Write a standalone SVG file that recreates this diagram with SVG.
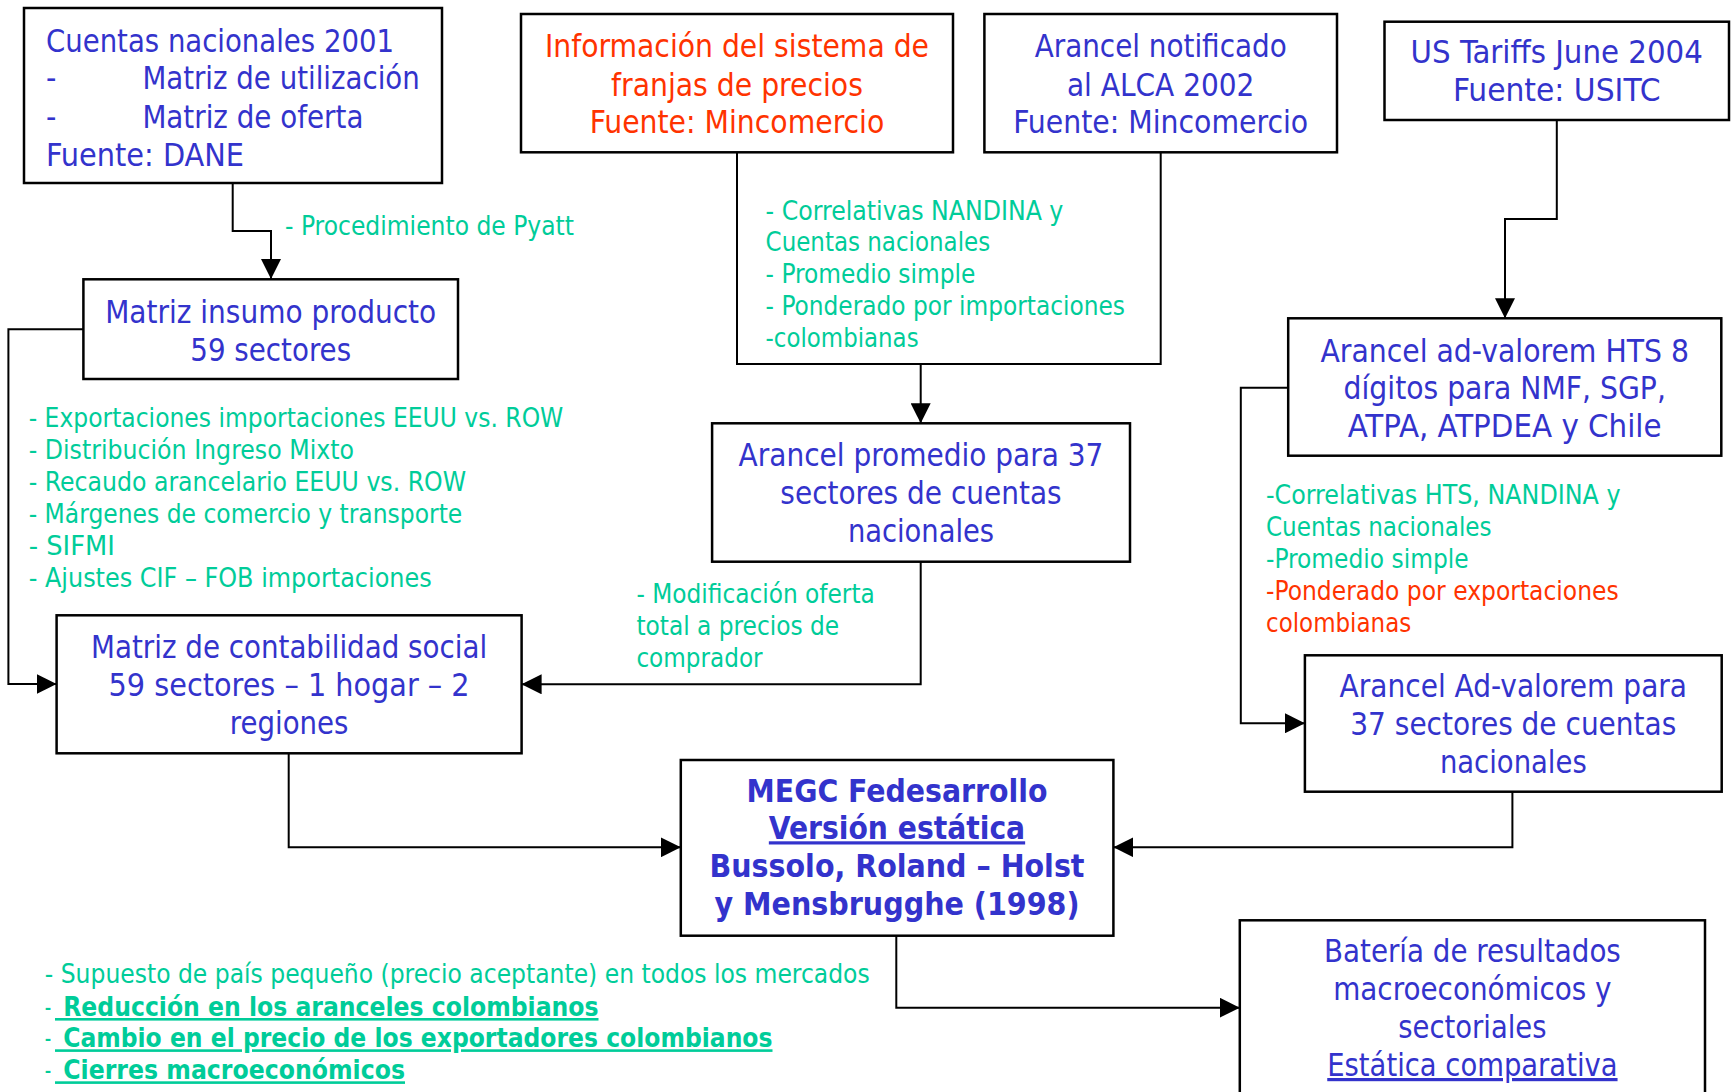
<svg xmlns="http://www.w3.org/2000/svg" width="1731" height="1092" viewBox="0 0 1731 1092">
<defs>
<style>
text{font-family:"DejaVu Sans Condensed","DejaVu Sans",sans-serif;}
.box{fill:#fff;stroke:#000;stroke-width:2.5}
.conn{fill:none;stroke:#000;stroke-width:2}
.b{fill:#3333CC;font-size:32px}
.r{fill:#FF3300}
.g{fill:#00CC99;font-size:26px}
.gr{fill:#FF3300;font-size:26px}
.c{text-anchor:middle}
.bold{font-weight:bold}
.u{text-decoration:underline}
</style>
<marker id="arr" viewBox="0 0 20 20" markerWidth="20" markerHeight="20" refX="20" refY="10" markerUnits="userSpaceOnUse" orient="auto">
<path d="M0,0 L20,10 L0,20 z" fill="#000"/>
</marker>
</defs>
<rect width="1731" height="1092" fill="#fff"/>

<g id="connectors">
<path class="conn" d="M232.7,183 V231 H271 V279" marker-end="url(#arr)"/>
<path class="conn" d="M83.4,329.3 H8.4 V684 H56.6" marker-end="url(#arr)"/>
<path class="conn" d="M737,152.3 V364 H1160.7 V152.3"/>
<path class="conn" d="M920.7,364 V423.3" marker-end="url(#arr)"/>
<path class="conn" d="M1556.8,120 V219 H1505 V318.3" marker-end="url(#arr)"/>
<path class="conn" d="M1288.2,387.7 H1240.8 V723.3 H1304.9" marker-end="url(#arr)"/>
<path class="conn" d="M920.7,561.7 V684.3 H521.6" marker-end="url(#arr)"/>
<path class="conn" d="M288.7,753.3 V847.3 H680.8" marker-end="url(#arr)"/>
<path class="conn" d="M1512.4,791.7 V847.3 H1113.4" marker-end="url(#arr)"/>
<path class="conn" d="M896.3,935.7 V1007.7 H1239.8" marker-end="url(#arr)"/>
</g>

<g id="labels">
<text class="g" x="285" y="235" textLength="289" lengthAdjust="spacingAndGlyphs">- Procedimiento de Pyatt</text>
<text class="g" x="28.7" y="426.7" textLength="534.6" lengthAdjust="spacingAndGlyphs">- Exportaciones importaciones EEUU vs. ROW</text>
<text class="g" x="28.7" y="458.7" textLength="325.3" lengthAdjust="spacingAndGlyphs">- Distribución Ingreso Mixto</text>
<text class="g" x="28.7" y="490.7" textLength="437.4" lengthAdjust="spacingAndGlyphs">- Recaudo arancelario EEUU vs. ROW</text>
<text class="g" x="28.7" y="522.7" textLength="433.6" lengthAdjust="spacingAndGlyphs">- Márgenes de comercio y transporte</text>
<text class="g" x="28.7" y="554.7" textLength="86.1" lengthAdjust="spacingAndGlyphs">- SIFMI</text>
<text class="g" x="28.7" y="586.7" textLength="403" lengthAdjust="spacingAndGlyphs">- Ajustes CIF – FOB importaciones</text>

<text class="g" x="765.6" y="220" textLength="297.8" lengthAdjust="spacingAndGlyphs">- Correlativas NANDINA y</text>
<text class="g" x="765.6" y="251" textLength="224.6" lengthAdjust="spacingAndGlyphs">Cuentas nacionales</text>
<text class="g" x="765.6" y="283" textLength="209.8" lengthAdjust="spacingAndGlyphs">- Promedio simple</text>
<text class="g" x="765.6" y="314.5" textLength="359.4" lengthAdjust="spacingAndGlyphs">- Ponderado por importaciones</text>
<text class="g" x="765.6" y="346.7" textLength="153" lengthAdjust="spacingAndGlyphs">-colombianas</text>

<text class="g" x="1266" y="504.3" textLength="354.5" lengthAdjust="spacingAndGlyphs">-Correlativas HTS, NANDINA y</text>
<text class="g" x="1266" y="536" textLength="225.6" lengthAdjust="spacingAndGlyphs">Cuentas nacionales</text>
<text class="g" x="1266" y="568.3" textLength="202.6" lengthAdjust="spacingAndGlyphs">-Promedio simple</text>
<text class="gr" x="1266" y="600" textLength="352.7" lengthAdjust="spacingAndGlyphs">-Ponderado por exportaciones</text>
<text class="gr" x="1266" y="631.7" textLength="145.2" lengthAdjust="spacingAndGlyphs">colombianas</text>

<text class="g" x="636.4" y="602.7" textLength="238.4" lengthAdjust="spacingAndGlyphs">- Modificación oferta</text>
<text class="g" x="636.4" y="635" textLength="202.8" lengthAdjust="spacingAndGlyphs">total a precios de</text>
<text class="g" x="636.4" y="666.7" textLength="126.2" lengthAdjust="spacingAndGlyphs">comprador</text>

<text class="g" x="44.8" y="983.3" textLength="824.9" lengthAdjust="spacingAndGlyphs">- Supuesto de país pequeño (precio aceptante) en todos los mercados</text>
<text class="g" x="44.8" y="1016" textLength="6.5" lengthAdjust="spacingAndGlyphs">-</text>
<text class="g bold u" x="55" y="1016" xml:space="preserve" textLength="543.5" lengthAdjust="spacingAndGlyphs"> Reducción en los aranceles colombianos</text>
<text class="g" x="44.8" y="1047.3" textLength="6.5" lengthAdjust="spacingAndGlyphs">-</text>
<text class="g bold u" x="55" y="1047.3" xml:space="preserve" textLength="717.5" lengthAdjust="spacingAndGlyphs"> Cambio en el precio de los exportadores colombianos</text>
<text class="g" x="44.8" y="1079.3" textLength="6.5" lengthAdjust="spacingAndGlyphs">-</text>
<text class="g bold u" x="55" y="1079.3" xml:space="preserve" textLength="350" lengthAdjust="spacingAndGlyphs"> Cierres macroeconómicos</text>
</g>

<g id="cuentas-nacionales">
<rect class="box" x="24" y="8" width="418" height="175"/>
<text class="b" x="46" y="51.7" textLength="348" lengthAdjust="spacingAndGlyphs">Cuentas nacionales 2001</text>
<text class="b" x="46" y="89.3">-</text>
<text class="b" x="142.4" y="89.3" textLength="277.4" lengthAdjust="spacingAndGlyphs">Matriz de utilización</text>
<text class="b" x="46" y="127.7">-</text>
<text class="b" x="142.4" y="127.7" textLength="221" lengthAdjust="spacingAndGlyphs">Matriz de oferta</text>
<text class="b" x="46" y="165.7" textLength="198" lengthAdjust="spacingAndGlyphs">Fuente: DANE</text>
</g>

<g id="franjas-precios">
<rect class="box" x="521" y="14" width="432" height="138.3"/>
<text class="b r c" x="737" y="57.3" textLength="384" lengthAdjust="spacingAndGlyphs">Información del sistema de</text>
<text class="b r c" x="737" y="95.7" textLength="251.8" lengthAdjust="spacingAndGlyphs">franjas de precios</text>
<text class="b r c" x="737" y="133.3" textLength="294.6" lengthAdjust="spacingAndGlyphs">Fuente: Mincomercio</text>
</g>

<g id="arancel-alca">
<rect class="box" x="984.4" y="14" width="352.6" height="138.3"/>
<text class="b c" x="1160.7" y="57.3" textLength="252" lengthAdjust="spacingAndGlyphs">Arancel notificado</text>
<text class="b c" x="1160.7" y="95.7" textLength="187.5" lengthAdjust="spacingAndGlyphs">al ALCA 2002</text>
<text class="b c" x="1160.7" y="133.3" textLength="295" lengthAdjust="spacingAndGlyphs">Fuente: Mincomercio</text>
</g>

<g id="us-tariffs">
<rect class="box" x="1384.5" y="21.7" width="344.5" height="98.3"/>
<text class="b c" x="1556.7" y="63.3" textLength="292.3" lengthAdjust="spacingAndGlyphs">US Tariffs June 2004</text>
<text class="b c" x="1556.7" y="100.7" textLength="207.5" lengthAdjust="spacingAndGlyphs">Fuente: USITC</text>
</g>

<g id="matriz-insumo">
<rect class="box" x="83.4" y="279.3" width="374.6" height="99.7"/>
<text class="b c" x="270.7" y="322.7" textLength="331" lengthAdjust="spacingAndGlyphs">Matriz insumo producto</text>
<text class="b c" x="270.7" y="360.7" textLength="160.8" lengthAdjust="spacingAndGlyphs">59 sectores</text>
</g>

<g id="arancel-hts">
<rect class="box" x="1288.2" y="318.3" width="433.1" height="137.4"/>
<text class="b c" x="1504.7" y="361.7" textLength="368.6" lengthAdjust="spacingAndGlyphs">Arancel ad-valorem HTS 8</text>
<text class="b c" x="1504.7" y="399.3" textLength="322.3" lengthAdjust="spacingAndGlyphs">dígitos para NMF, SGP,</text>
<text class="b c" x="1504.7" y="437.3" textLength="313.8" lengthAdjust="spacingAndGlyphs">ATPA, ATPDEA y Chile</text>
</g>

<g id="arancel-promedio">
<rect class="box" x="712.1" y="423.3" width="417.9" height="138.4"/>
<text class="b c" x="921" y="466" textLength="364.8" lengthAdjust="spacingAndGlyphs">Arancel promedio para 37</text>
<text class="b c" x="921" y="504" textLength="281.3" lengthAdjust="spacingAndGlyphs">sectores de cuentas</text>
<text class="b c" x="921" y="541.7" textLength="146.2" lengthAdjust="spacingAndGlyphs">nacionales</text>
</g>

<g id="matriz-contabilidad">
<rect class="box" x="56.6" y="615.3" width="465" height="138"/>
<text class="b c" x="289.1" y="658.3" textLength="396" lengthAdjust="spacingAndGlyphs">Matriz de contabilidad social</text>
<text class="b c" x="289.1" y="696" textLength="361" lengthAdjust="spacingAndGlyphs">59 sectores – 1 hogar – 2</text>
<text class="b c" x="289.1" y="734" textLength="118.6" lengthAdjust="spacingAndGlyphs">regiones</text>
</g>

<g id="arancel-advalorem">
<rect class="box" x="1304.9" y="655.3" width="416.8" height="136.4"/>
<text class="b c" x="1513.3" y="697.3" textLength="347.5" lengthAdjust="spacingAndGlyphs">Arancel Ad-valorem para</text>
<text class="b c" x="1513.3" y="735.3" textLength="326" lengthAdjust="spacingAndGlyphs">37 sectores de cuentas</text>
<text class="b c" x="1513.3" y="773.3" textLength="146.8" lengthAdjust="spacingAndGlyphs">nacionales</text>
</g>

<g id="megc">
<rect class="box" x="680.8" y="760" width="432.6" height="175.7"/>
<text class="b c bold" x="897" y="801.7" textLength="301" lengthAdjust="spacingAndGlyphs">MEGC Fedesarrollo</text>
<text class="b c bold u" x="897" y="839.3" textLength="256.3" lengthAdjust="spacingAndGlyphs">Versión estática</text>
<text class="b c bold" x="897" y="877.3" textLength="375" lengthAdjust="spacingAndGlyphs">Bussolo, Roland – Holst</text>
<text class="b c bold" x="897" y="915" textLength="365" lengthAdjust="spacingAndGlyphs">y Mensbrugghe (1998)</text>
</g>

<g id="bateria">
<rect class="box" x="1239.8" y="920.3" width="465.2" height="200"/>
<text class="b c" x="1472.4" y="961.7" textLength="296.8" lengthAdjust="spacingAndGlyphs">Batería de resultados</text>
<text class="b c" x="1472.4" y="1000" textLength="278.4" lengthAdjust="spacingAndGlyphs">macroeconómicos y</text>
<text class="b c" x="1472.4" y="1037.7" textLength="148.2" lengthAdjust="spacingAndGlyphs">sectoriales</text>
<text class="b c u" x="1472.4" y="1076" textLength="290.3" lengthAdjust="spacingAndGlyphs">Estática comparativa</text>
</g>
</svg>
